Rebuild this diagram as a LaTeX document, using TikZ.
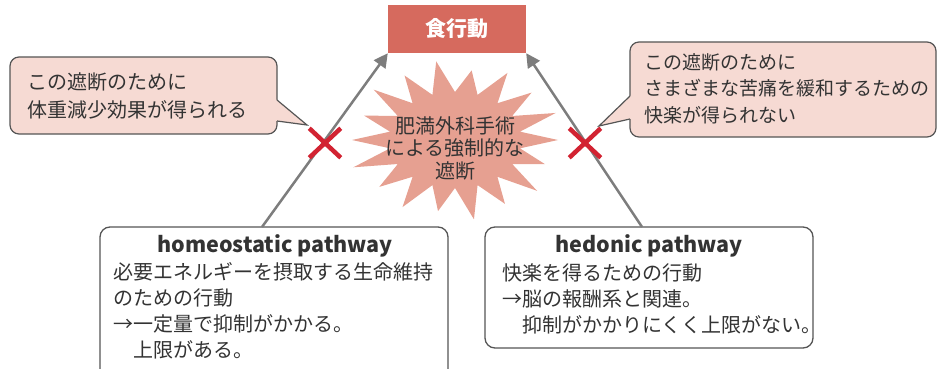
\documentclass[tikz,border=0pt]{standalone}
\usepackage{fontspec}
\setmainfont{Noto Sans CJK JP}
\usetikzlibrary{arrows.meta,calc,shapes.misc}
\definecolor{txt}{RGB}{51,51,51}
\definecolor{foodred}{RGB}{214,106,94}
\definecolor{burstc}{RGB}{230,160,145}
\definecolor{calloutc}{RGB}{246,218,211}
\definecolor{edgec}{RGB}{85,85,85}
\definecolor{arrowc}{RGB}{125,125,125}
\definecolor{crossc}{RGB}{210,35,50}
\tikzset{
  jtext/.style={text=txt, font=\fontsize{20}{26}\selectfont, inner sep=0pt, align=left},
  ttext/.style={text=txt, font=\fontsize{21.5}{24}\selectfont\bfseries, inner sep=0pt},
  pbox/.style={draw=edgec, line width=1.3pt, rounded corners=10pt, fill=white, inner sep=0pt},
  callbox/.style={draw=edgec, line width=1.2pt, fill=calloutc, rounded corners=9pt, inner sep=0pt},
  arr/.style={draw=arrowc, line width=2.5pt, -{Triangle[length=14pt,width=14pt]}},
  xmark/.style={cross out, draw=crossc, line width=4.5pt, minimum width=27pt, minimum height=25pt, inner sep=0pt},
}
\begin{document}
\begin{tikzpicture}[x=1pt,y=-1pt]
\useasboundingbox (0,0) rectangle (938,369);
\clip (0,0) rectangle (938,369);

% starburst
\fill[burstc, shift={(455,140)}] (0:{103} and {76})
  \foreach \a/\f [evaluate=\f as \ro using 103*\f, evaluate=\f as \rv using 76*\f] in
  {0/1,20/0.93,40/1.04,60/0.97,80/1.06,100/0.95,120/1.02,140/0.96,160/1.05,180/1,200/0.94,220/1.03,240/0.98,260/1.05,280/0.93,300/1.02,320/0.97,340/1.04}
  { -- (\a:{\ro} and {\rv}) -- (\a+10:{66} and {48}) } -- cycle;
\node[jtext, align=center, font=\fontsize{20}{22.5}\selectfont] (burst) at (455,148) {肥満外科手術\\による強制的な\\遮断};

% bottom boxes
\node[pbox, minimum width=348pt, minimum height=160pt] (home) at (274,307) {};
\node[pbox, minimum width=328pt, minimum height=121pt] (hed) at (649,287.5) {};
\node[ttext] (homet) at (275,246) {homeostatic pathway};
\node[ttext] (hedt) at (649,246) {hedonic pathway};
\node[jtext, anchor=west] (homex) at (113,311) {必要エネルギーを摂取する生命維持\\のための行動\\→一定量で抑制がかかる。\\　上限がある。};
\node[jtext, anchor=west] (hedx) at (502,298.5) {快楽を得るための行動\\→脳の報酬系と関連。\\　抑制がかかりにくく上限がない。};

% arrows
\coordinate (hs) at (262,227);
\coordinate (rs) at (642,227);
\node[fill=foodred, minimum width=138pt, minimum height=48pt, inner sep=0pt] (food) at (457,29) {};
\draw[arr] (hs) -- (food.south west);
\draw[arr] (rs) -- (food.south east);
\node[text=white, font=\fontsize{21}{21}\selectfont\bfseries, inner sep=0pt] (foodt) at (food.center) {食行動};

% crosses
\node[xmark] (xl) at (325,143) {};
\node[xmark] (xr) at (585,143) {};

% left callout
\node[callbox, minimum width=267pt, minimum height=77pt] (cl) at (143.5,95.5) {};
\coordinate (tl) at (307,125);
\fill[calloutc] (274,100) -- (277,100) -- (tl) -- (277,121) -- (274,121) -- cycle;
\draw[edgec, line width=1.2pt, line join=miter] (277,100) -- (tl) -- (277,121);
\node[jtext, anchor=west, font=\fontsize{20}{28}\selectfont] (clt) at (27,96) {この遮断のために\\体重減少効果が得られる};

% right callout
\node[callbox, minimum width=306pt, minimum height=95pt] (cr) at (783,89.5) {};
\coordinate (tr) at (599,126);
\fill[calloutc] (633,96) -- (630,96) -- (tr) -- (630,119) -- (633,119) -- cycle;
\draw[edgec, line width=1.2pt, line join=miter] (630,96) -- (tr) -- (630,119);
\node[jtext, anchor=west, font=\fontsize{19}{26.5}\selectfont] (crt) at (644,88.5) {この遮断のために\\さまざまな苦痛を緩和するための\\快楽が得られない};
\end{tikzpicture}
\end{document}
